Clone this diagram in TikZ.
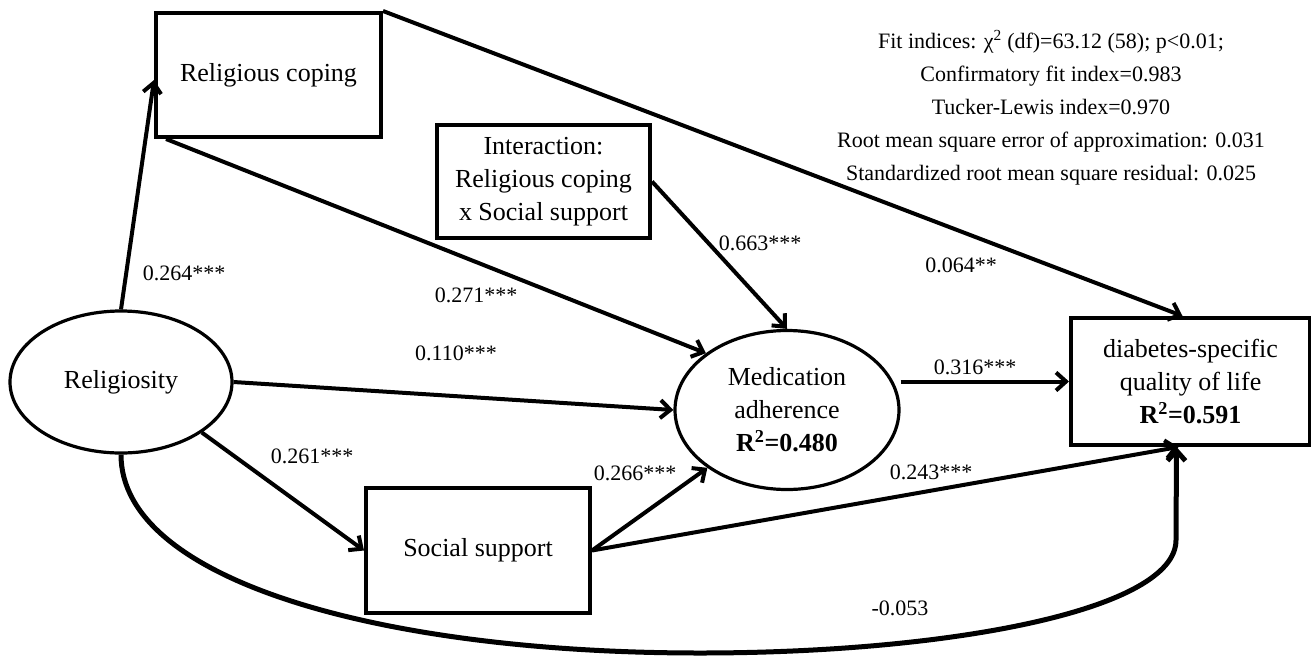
\documentclass[tikz,border=0pt]{standalone}
\usepackage{fontspec}
\setmainfont{Liberation Serif}
\usetikzlibrary{shapes.geometric,arrows.meta}
\begin{document}
\begin{tikzpicture}[x=1pt,y=-1pt,
  box/.style={draw,line width=4pt,rectangle,align=center,inner sep=0pt,
    font=\fontsize{26}{33}\selectfont},
  latent/.style={draw,line width=3.2pt,ellipse,align=center,inner sep=0pt,
    font=\fontsize{26}{33}\selectfont},
  path/.style={line width=4pt,-{Straight Barb[length=10pt,width=18pt]}},
  coef/.style={font=\fontsize{22}{26}\selectfont,inner sep=0pt}]
  \useasboundingbox (0,0) rectangle (1311,656);
  \node[latent,minimum width=222pt,minimum height=142pt] (rel) at (121,382) {Religiosity};
  \node[box,minimum width=225pt,minimum height=124pt] (rc) at (268.5,75) {Religious coping};
  \node[box,minimum width=213pt,minimum height=113pt] (inter) at (543.5,181.5)
    {Interaction:\\Religious coping\\x Social support};
  \node[box,minimum width=224pt,minimum height=125pt] (soc) at (478,550.5) {Social support};
  \node[latent,minimum width=224pt,minimum height=159pt] (med) at (787,410)
    {Medication\\adherence\\\textbf{R\textsuperscript{2}=0.480}};
  \node[box,minimum width=239pt,minimum height=127pt] (dsq) at (1190.5,381.5)
    {diabetes-specific\\quality of life\\\textbf{R\textsuperscript{2}=0.591}};
  \node[align=center,inner sep=0pt,font=\fontsize{22}{33}\selectfont] (fit) at (1051,108)
    {Fit indices: χ\textsuperscript{2} (df)=63.12 (58); p<0.01;\\
     Confirmatory fit index=0.983\\
     Tucker-Lewis index=0.970\\
     Root mean square error of approximation: 0.031\\
     Standardized root mean square residual: 0.025};
  \draw[path] (rel.north) -- ([yshift=-5pt]rc.west);
  \draw[path] ([xshift=12pt]rc.south west) -- (med.145);
  \draw[path] (rc.north east) -- ([xshift=-8pt]dsq.north);
  \draw[path] (inter.east) -- (med.north);
  \draw[path] (rel.east) -- (med.west);
  \draw[path] (rel.-32) -- (soc.west);
  \draw[path] (soc.east) -- (med.216);
  \draw[path] (soc.east) -- ([xshift=-12pt]dsq.south);
  \draw[path] (med.east |- dsq.west) -- (dsq.west);
  \coordinate (low) at (700,653);
  \coordinate (up) at (1176,540);
  \draw[path,line width=5pt] (rel.south) .. controls (121,580) and (380,653) .. (low)
    .. controls (950,653) and (1176,610) .. (up) -- ([xshift=-14pt]dsq.south);
  \node[coef] (c264) at (184,273) {0.264***};
  \node[coef] (c271) at (476,295) {0.271***};
  \node[coef] (c663) at (760,243) {0.663***};
  \node[coef] (c064) at (961,265) {0.064**};
  \node[coef] (c110) at (456,353) {0.110***};
  \node[coef] (c261) at (312,456) {0.261***};
  \node[coef] (c266) at (635,473) {0.266***};
  \node[coef] (c243) at (931,472) {0.243***};
  \node[coef] (c316) at (975,367) {0.316***};
  \node[coef] (c053) at (900,608) {-0.053};
\end{tikzpicture}
\end{document}
